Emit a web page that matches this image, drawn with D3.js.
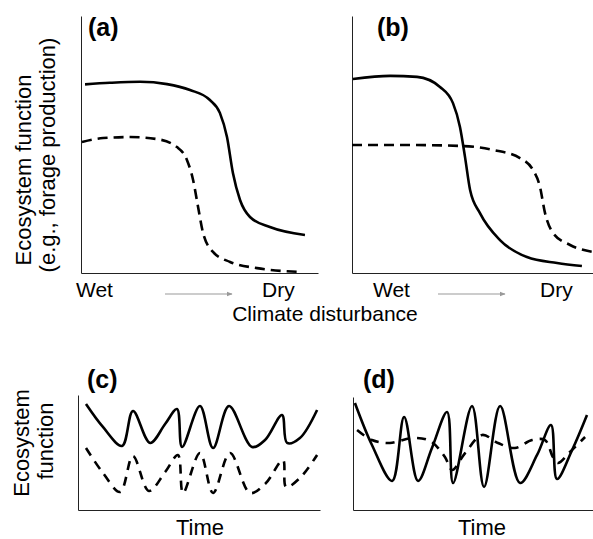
<!DOCTYPE html>
<html>
<head>
<meta charset="utf-8">
<script src="https://cdn.jsdelivr.net/npm/d3@7"></script>
<style>
  body { margin: 0; background: #fff; }
  text { font-family: "Liberation Sans", Arial, Helvetica, sans-serif; fill: #000; }
</style>
</head>
<body>
<div id="chart"></div>
<script>
// curves in panel units (x: 0-100 along the axis, y: 0-100 up the axis)
const aSolid = [[1.7,73.4],[12.2,74.0],[24.9,74.4],[36.3,73.5],[46.0,71.2],[54.4,67.3],[58.6,62.3],[61.6,52.9],[64.1,38.9],[67.1,28.4],[71.3,21.8],[79.7,17.9],[94.5,14.8]];
const aDashed = [[0.4,51.0],[9.3,52.5],[20.7,52.9],[32.1,52.1],[40.5,49.0],[44.7,44.0],[47.3,36.2],[49.4,25.7],[51.5,15.6],[55.7,8.2],[62.9,4.3],[74.3,1.9],[92.4,0.4]];
const bSolid = [[0.4,75.5],[15.8,76.7],[27.0,76.3],[36.5,72.4],[41.9,66.1],[44.8,56.8],[46.9,45.1],[49.0,32.3],[53.1,23.3],[61.4,12.8],[72.6,6.2],[85.1,3.9],[95.4,2.7]];
const bDashed = [[0,49.8],[22.8,49.8],[46.1,49.4],[58.5,47.9],[69.7,44.7],[75.1,40.1],[78.0,33.5],[80.1,23.3],[83.4,15.6],[90.5,10.9],[100,8.2]];
const cSolid = [[3.3,92.2],[10.3,72.2],[18.2,55.7],[22.7,86.1],[29.8,58.3],[36.0,74.8],[40.9,87.8],[43.0,54.8],[50.4,90.4],[55.8,53.9],[62.4,90.4],[71.9,54.8],[77.3,60.9],[84.3,82.6],[86.4,58.3],[91.7,62.6],[98.8,87.0]];
const cDashed = [[3.3,53.9],[10.3,32.2],[17.4,15.7],[22.7,47.0],[29.3,16.5],[36.0,33.0],[41.3,47.8],[43.4,14.8],[50.4,49.6],[55.8,14.8],[62.8,49.6],[71.1,14.8],[77.3,22.6],[84.7,43.5],[86.0,20.0],[91.7,27.8],[98.8,47.8]];
const dSolid = [[0.8,94.7],[7.9,57.5],[16.3,25.7],[21.3,82.3],[27.1,25.7],[32.9,54.9],[39.2,86.7],[41.7,23.9],[49.6,92.0],[54.6,20.4],[61.3,92.0],[69.6,23.9],[76.7,48.7],[82.5,75.2],[85.0,27.4],[91.3,53.1],[97.5,84.1]];
const dDashed = [[1.7,70.8],[7.9,61.9],[15.4,59.3],[24.6,63.7],[32.1,61.1],[38.3,46.9],[41.3,35.4],[46.7,50.4],[53.8,66.4],[60.4,59.3],[67.5,54.9],[74.6,61.9],[80.0,61.9],[83.3,46.9],[85.4,41.6],[90.4,51.3],[96.7,64.6]];

const panelLabels = ["(a)", "(b)", "(c)", "(d)"];
const xEndLabels = ["Wet", "Dry"];

const svg = d3.select("#chart").append("svg")
  .attr("width", 593).attr("height", 539);

svg.append("defs").append("marker")
  .attr("id", "arrow")
  .attr("viewBox", "0 0 10 10")
  .attr("refX", 9).attr("refY", 5)
  .attr("markerWidth", 6).attr("markerHeight", 6)
  .attr("orient", "auto")
  .append("path")
  .attr("d", "M0,1L10,5L0,9z")
  .attr("fill", "#999");

const panels = [
  { label: panelLabels[0], x0: 81, x1: 318, y0: 273, y1: 16, solid: aSolid, dashed: aDashed, dash: "10,6", curve: d3.curveMonotoneX, lx: 88, ly: 36 },
  { label: panelLabels[1], x0: 352, x1: 593, y0: 273, y1: 16, solid: bSolid, dashed: bDashed, dash: "10,6", curve: d3.curveMonotoneX, lx: 377, ly: 36 },
  { label: panelLabels[2], x0: 78, x1: 320, y0: 510, y1: 395, solid: cSolid, dashed: cDashed, dash: "9,7", curve: d3.curveCatmullRom.alpha(0.5), lx: 87, ly: 388 },
  { label: panelLabels[3], x0: 353, x1: 593, y0: 510, y1: 397, solid: dSolid, dashed: dDashed, dash: "9,7", curve: d3.curveCatmullRom.alpha(0.5), lx: 363, ly: 388 }
];

panels.forEach(function (p) {
  const x = d3.scaleLinear().domain([0, 100]).range([p.x0, p.x1]);
  const y = d3.scaleLinear().domain([0, 100]).range([p.y0, p.y1]);

  svg.append("g")
    .attr("transform", `translate(0,${p.y0})`)
    .call(d3.axisBottom(x).ticks(0).tickSizeOuter(0))
    .select(".domain").attr("stroke", "#222");
  svg.append("g")
    .attr("transform", `translate(${p.x0},0)`)
    .call(d3.axisLeft(y).ticks(0).tickSizeOuter(0))
    .select(".domain").attr("stroke", "#222");

  const line = d3.line()
    .x((d) => x(d[0]))
    .y((d) => y(d[1]))
    .curve(p.curve);

  svg.append("path")
    .attr("d", line(p.solid))
    .attr("fill", "none")
    .attr("stroke", "#000")
    .attr("stroke-width", 2.6);

  svg.append("path")
    .attr("d", line(p.dashed))
    .attr("fill", "none")
    .attr("stroke", "#000")
    .attr("stroke-width", 2.6)
    .attr("stroke-dasharray", p.dash);

  svg.append("text")
    .attr("x", p.lx)
    .attr("y", p.ly)
    .style("font-size", "25px")
    .style("font-weight", "bold")
    .text(p.label);
});

// x end labels and arrows for (a) and (b)
[[76, 262, 165, 232], [373, 540, 438, 505]].forEach(function (c) {
  svg.append("text").attr("x", c[0]).attr("y", 297).style("font-size", "21px").text(xEndLabels[0]);
  svg.append("text").attr("x", c[1]).attr("y", 297).style("font-size", "21px").text(xEndLabels[1]);
  svg.append("line")
    .attr("x1", c[2]).attr("x2", c[3])
    .attr("y1", 294).attr("y2", 294)
    .attr("stroke", "#999")
    .attr("stroke-width", 1)
    .attr("marker-end", "url(#arrow)");
});

svg.append("text")
  .attr("x", 325).attr("y", 321)
  .attr("text-anchor", "middle")
  .style("font-size", "21px")
  .text("Climate disturbance");

svg.append("text")
  .attr("x", 200).attr("y", 535)
  .attr("text-anchor", "middle")
  .style("font-size", "22px")
  .text("Time");
svg.append("text")
  .attr("x", 482).attr("y", 535)
  .attr("text-anchor", "middle")
  .style("font-size", "22px")
  .text("Time");

// y labels
svg.append("text")
  .attr("transform", "translate(31,170) rotate(-90)")
  .attr("text-anchor", "middle")
  .style("font-size", "22px")
  .text("Ecosystem function");
svg.append("text")
  .attr("transform", "translate(55,155) rotate(-90)")
  .attr("text-anchor", "middle")
  .style("font-size", "22px")
  .text("(e.g., forage production)");

svg.append("text")
  .attr("transform", "translate(29,443) rotate(-90)")
  .attr("text-anchor", "middle")
  .style("font-size", "22px")
  .text("Ecosystem");
svg.append("text")
  .attr("transform", "translate(53,441) rotate(-90)")
  .attr("text-anchor", "middle")
  .style("font-size", "22px")
  .text("function");
</script>
</body>
</html>
